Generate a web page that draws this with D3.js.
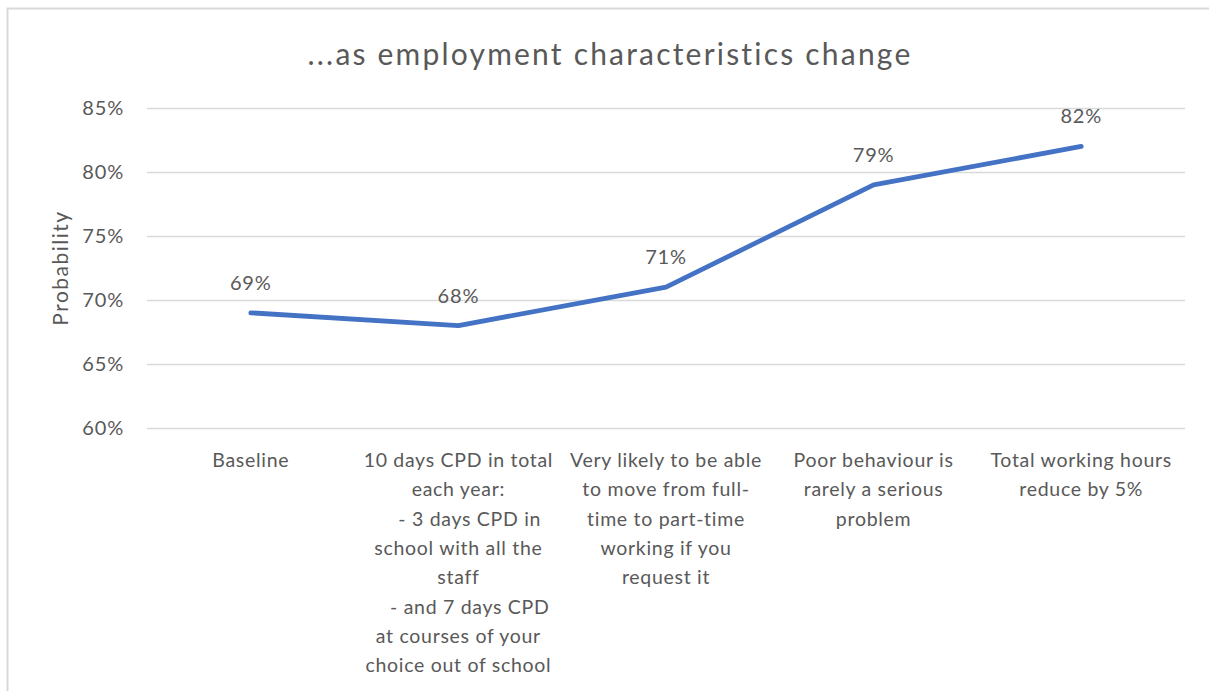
<!DOCTYPE html>
<html>
<head>
<meta charset="utf-8">
<script src="https://cdn.jsdelivr.net/npm/d3@7"></script>
<style>
  html, body { margin: 0; padding: 0; background: #fff; }
  svg { display: block; }
  text { font-family: Lato, "Open Sans", sans-serif; fill: #595959; }
</style>
</head>
<body>
<svg id="chart" width="1209" height="691"></svg>
<script>
// Scenario categories (wrapped axis labels, one array of lines per category)
const categories = ["Baseline", "CPD", "Part-time", "Behaviour", "Hours"];
const categoryLines = [
  ["Baseline"],
  ["10 days CPD in total", "each year:", "    - 3 days CPD in", "school with all the", "staff", "    - and 7 days CPD", "at courses of your", "choice out of school"],
  ["Very likely to be able", "to move from full-", "time to part-time", "working if you", "request it"],
  ["Poor behaviour is", "rarely a serious", "problem"],
  ["Total working hours", "reduce by 5%"]
];
// Probability for each scenario
const probability = [0.69, 0.68, 0.71, 0.79, 0.82];
const yTicks = [0.60, 0.65, 0.70, 0.75, 0.80, 0.85];

const title = "...as employment characteristics change";
const yTitle = "Probability";

const svg = d3.select("#chart");
const W = 1209, H = 691;
const plot = { left: 147, right: 1185, top: 108, bottom: 428 };

// Chart frame
svg.append("path")
  .attr("d", `M7.5,${H} V8.5 H${W}`)
  .attr("fill", "none")
  .attr("stroke", "#d9d9d9")
  .attr("stroke-width", 2);

const x = d3.scaleBand().domain(categories).range([plot.left, plot.right]);
const y = d3.scaleLinear().domain([0.60, 0.85]).range([plot.bottom, plot.top]);
const fmt = d3.format(".0%");

// Horizontal gridlines
svg.append("g").selectAll("line").data(yTicks).join("line")
  .attr("x1", plot.left).attr("x2", plot.right)
  .attr("y1", d => Math.round(y(d)) + 0.5).attr("y2", d => Math.round(y(d)) + 0.5)
  .attr("stroke", "#d9d9d9").attr("stroke-width", 1.5);

// Y axis tick labels
const yAxis = d3.axisLeft(y).tickValues(yTicks).tickFormat(fmt).tickSize(0).tickPadding(0);
const gy = svg.append("g").attr("transform", `translate(124,0)`).call(yAxis);
gy.select(".domain").remove();
gy.selectAll("text")
  .attr("font-size", 20)
  .attr("letter-spacing", 0.8)
  .attr("font-family", "Lato, sans-serif")
  .attr("fill", "#595959");

// Y axis title
svg.append("text")
  .attr("transform", `translate(68,${(plot.top + plot.bottom) / 2 - 0}) rotate(-90)`)
  .attr("text-anchor", "middle")
  .attr("font-size", 21)
  .attr("letter-spacing", 1.5)
  .text(yTitle);

// Title
svg.append("text")
  .attr("x", 610).attr("y", 65)
  .attr("text-anchor", "middle")
  .attr("font-size", 30)
  .attr("letter-spacing", 2.2)
  .text(title);

// Category labels
const cx = d => x(d) + x.bandwidth() / 2;
const gx = svg.append("g");
categories.forEach((c, i) => {
  const t = gx.append("text")
    .attr("text-anchor", "middle")
    .attr("font-size", 19.5)
    .attr("letter-spacing", 0.7)
    .attr("xml:space", "preserve")
    .style("white-space", "pre");
  categoryLines[i].forEach((ln, j) => {
    t.append("tspan")
      .attr("x", cx(c))
      .attr("y", 467 + j * 29.3)
      .text(ln);
  });
});

// Series line
const line = d3.line()
  .x((d, i) => cx(categories[i]))
  .y(d => y(d));
svg.append("path")
  .datum(probability)
  .attr("d", line)
  .attr("fill", "none")
  .attr("stroke", "#4472c4")
  .attr("stroke-width", 4.8)
  .attr("stroke-linejoin", "round")
  .attr("stroke-linecap", "round");

// Data labels
svg.append("g").selectAll("text").data(probability).join("text")
  .attr("x", (d, i) => cx(categories[i]))
  .attr("y", d => y(d) - 23)
  .attr("text-anchor", "middle")
  .attr("font-size", 20)
  .attr("letter-spacing", 0.8)
  .text(d => fmt(d));
</script>
</body>
</html>
